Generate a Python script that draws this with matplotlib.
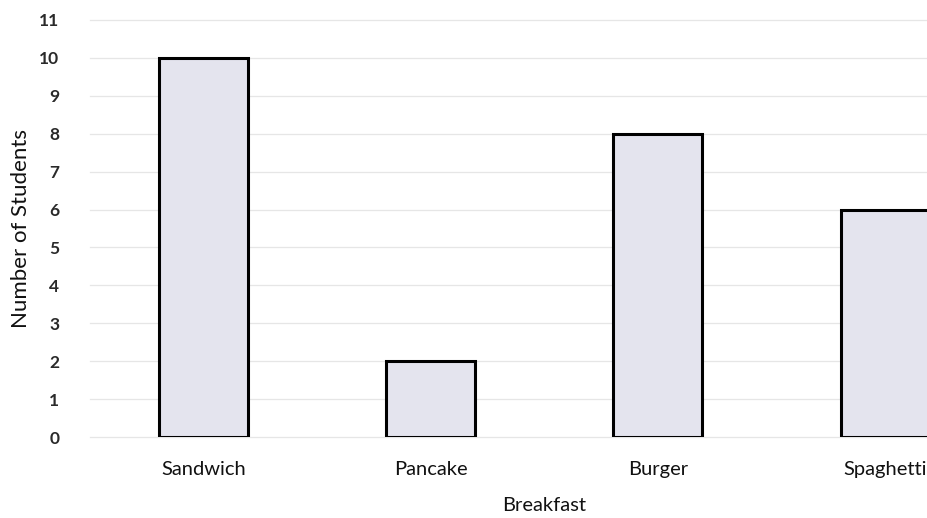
import numpy as np
import matplotlib
matplotlib.use("Agg")
from matplotlib import pyplot as plt

# data
foods = ["Sandwich", "Pancake", "Burger", "Spaghetti"]
students = [10, 2, 8, 6]
y_ticks = list(range(0, 12))

label_font = ["Lato", "DejaVu Sans"]

fig = plt.figure(figsize=(9.28, 5.18), dpi=100)
ax = fig.add_axes([90 / 928, (518 - 437) / 518, 1 - 90 / 928, (437 - 20) / 518])

x = np.arange(len(foods))
ax.bar(x, students, width=0.39, color="#e4e4ee", edgecolor="black",
       linewidth=2.2, zorder=3)

# original chart ran to 3.5, the scan cuts it off on the right
xmin, xmax = -0.5, 3.19
ax.set_xlim(xmin, xmax)
ax.set_ylim(0, 11)

ax.set_yticks(y_ticks)
ax.set_yticklabels([str(t) for t in y_ticks], fontsize=12.5, fontweight="bold",
                   color="#2a2a2a", family=label_font)
ax.set_xticks(x)
ax.set_xticklabels(foods, fontsize=14.5, color="#111111", family=label_font)
ax.tick_params(axis="y", length=0, pad=22)
ax.tick_params(axis="x", length=0, pad=17)

ax.grid(axis="y", color="#e6e6e6", linewidth=0.9, zorder=0)
for g in ax.get_ygridlines():
    g.set_clip_on(False)
for s in ax.spines.values():
    s.set_visible(False)

ax.set_xlabel("Breakfast", fontsize=14.5, color="#111111", family=label_font)
ax.xaxis.set_label_coords((1.5 - xmin) / (xmax - xmin), -0.145)
ax.set_ylabel("Number of Students", fontsize=16, color="#111111",
              family=label_font)
ax.yaxis.set_label_coords(-0.07, 0.5)

fig.savefig("out.png", dpi=100)
